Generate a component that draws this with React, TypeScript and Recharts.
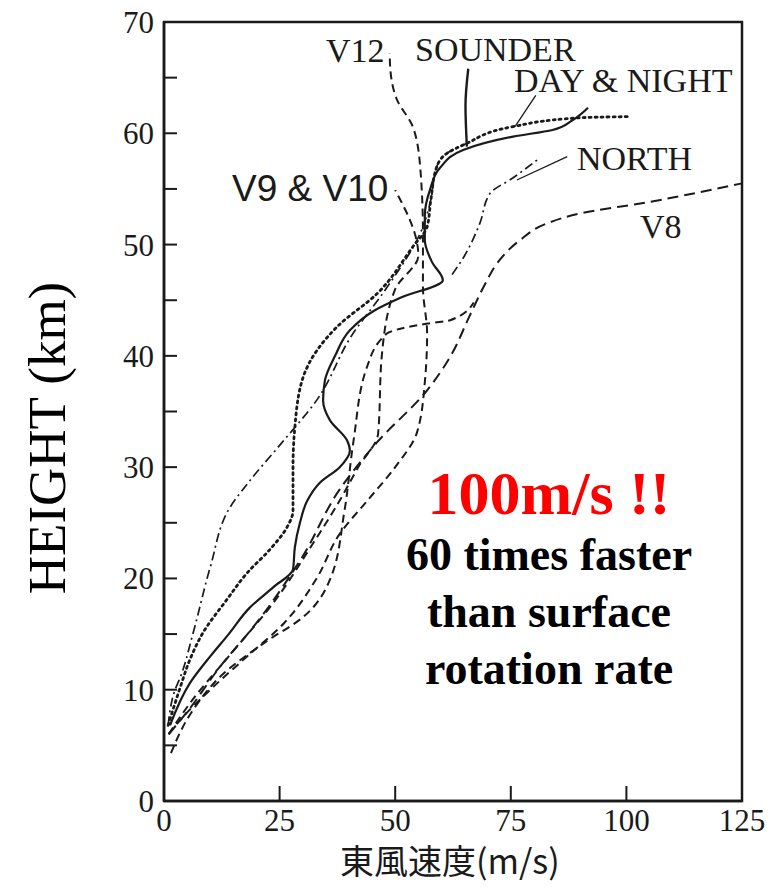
import { ScatterChart, Scatter, XAxis, YAxis, ReferenceArea } from "recharts";

// frame of the plot in page pixels
const LEFT = 164;
const RIGHT = 742;
const TOP = 22;
const BOTTOM = 801;

const X_TICKS = [0, 25, 50, 75, 100, 125];
const Y_TICKS = [0, 5, 10, 15, 20, 25, 30, 35, 40, 45, 50, 55, 60, 65, 70];

// wind speed (m/s) / height (km)
const sounderSpeed = [1.3, 5.6, 10, 14, 18.6, 23.6, 27.9, 28.3, 29.4, 31, 33.7, 38, 40.2, 39.6, 35.9, 34.4, 34.8, 37, 40.2, 45.6, 51, 60.3, 58, 56.4, 56.4, 57.5, 59.7, 64.7, 75.5, 84, 88.4, 91.7];
const sounderHeight = [6.8, 10.6, 13, 15, 17.4, 19.2, 20.8, 22.8, 25, 27, 28.6, 30, 31.5, 32.4, 34.2, 36, 37.8, 40, 42.3, 44.1, 45.2, 46.8, 48.4, 50.4, 52.6, 54.9, 56.9, 58.5, 59.7, 60.3, 61.2, 62.3];

const daySpeed = [0.9, 3.5, 5.6, 8.4, 13.6, 18, 22.9, 26.6, 27.9, 27.9, 28.3, 30.1, 33.1, 37.4, 46.1, 53.8, 56.9, 57.7, 59, 61.2, 65.5, 75.5, 90, 100.8];
const dayHeight = [6.8, 10.2, 12.7, 15.1, 18.1, 20.5, 22.6, 24.6, 26.1, 30, 33.6, 38.1, 40.5, 42.6, 45.6, 49.8, 51.6, 54, 57, 58.2, 59.1, 60.6, 61.4, 61.5];

const nightSpeed = [0.9, 2.4, 3.5, 6.3, 10, 14.3, 18.6, 25.5, 33, 40.7, 47.8, 56, 57.7, 59, 61.2, 65.5];
const nightHeight = [6.8, 10, 11.1, 15.1, 21, 26.4, 28.8, 32.2, 36, 41.9, 45.9, 51.6, 54, 57, 58.2, 59.1];

const northSpeed = [62.3, 65, 68.3, 70.5, 75.5, 80.7];
const northHeight = [47.3, 49, 51.9, 54.6, 56, 57.6];

const v8Speed = [1, 5, 12, 20, 30, 38, 46, 56.9, 62, 66, 69.5, 72, 77, 82.8, 90, 104.5, 125];
const v8Height = [6, 8, 12, 16, 22, 28, 32.2, 36.9, 40, 43.5, 46.5, 48.3, 50.4, 51.9, 52.8, 53.8, 55.5];

const v10Speed = [1.5, 6, 13, 22, 30, 36, 39, 41, 43.9, 48.2, 57, 61.9, 67];
const v10Height = [4.3, 8, 11.5, 14.3, 16.5, 20, 26, 32.4, 39, 42, 42.9, 43.2, 44.8];

const v9Speed = [1, 6, 14, 24, 32, 38, 42, 46.3, 47.1, 50, 55, 50];
const v9Height = [6, 9, 13, 18, 23, 27, 30, 33, 40, 46, 49, 54.9];

const v12Speed = [1, 4, 10, 18, 26, 33, 38, 44, 50, 54.7, 56.4, 56.9, 56, 56, 55.4, 53.8, 50.4, 49, 48.8];
const v12Height = [6, 7.5, 10, 13, 16, 20, 24, 27, 30, 33.1, 37.6, 42, 46.2, 51, 57, 60.6, 63, 65.5, 67.2];

// label leaders
const sounderLeadSpeed = [65.5, 65.2, 65.8];
const sounderLeadHeight = [58.8, 62.5, 65.8];
const dayLeadSpeed = [75.9, 80.4];
const dayLeadHeight = [60.6, 63.4];
const northLeadSpeed = [76.3, 87.2];
const northLeadHeight = [55.8, 57.9];

const zip = (v: number[], h: number[]) => v.map((s, i) => ({ v: s, h: h[i] }));

const INK = "#1a1a1a";
const SERIF = "'Liberation Serif', 'DejaVu Serif', serif";

const noDot = () => <g />;

// eslint-disable-next-line @typescript-eslint/no-explicit-any
function XTick({ x, payload }: any) {
  const v = payload.value;
  const inner = v > 0 && v < 125;
  return (
    <g>
      {inner && <line x1={x} x2={x} y1={BOTTOM} y2={BOTTOM - 15} stroke={INK} strokeWidth={2} />}
      <text x={x} y={BOTTOM + 30} textAnchor="middle" fontFamily={SERIF} fontSize={31} fill={INK}>
        {v}
      </text>
    </g>
  );
}

// eslint-disable-next-line @typescript-eslint/no-explicit-any
function YTick({ y, payload }: any) {
  const v = payload.value;
  const inner = v > 0 && v < 70;
  return (
    <g>
      {inner && <line x1={LEFT} x2={LEFT + 13} y1={y} y2={y} stroke={INK} strokeWidth={2} />}
      {v % 10 === 0 && (
        <text x={LEFT - 10} y={y + 11} textAnchor="end" fontFamily={SERIF} fontSize={31} fill={INK}>
          {v}
        </text>
      )}
    </g>
  );
}

const curves = [
  { name: "sounder", data: zip(sounderSpeed, sounderHeight), dash: undefined, w: 2.2, joint: "monotoneY" },
  { name: "day", data: zip(daySpeed, dayHeight), dash: "2 4", w: 2.8, joint: "monotoneY" },
  { name: "night", data: zip(nightSpeed, nightHeight), dash: "9 4 2 4", w: 1.7, joint: "monotoneY" },
  { name: "north", data: zip(northSpeed, northHeight), dash: "9 4 2 4", w: 1.7, joint: "monotoneY" },
  { name: "v8", data: zip(v8Speed, v8Height), dash: "11 6", w: 2, joint: "monotoneY" },
  { name: "v9", data: zip(v9Speed, v9Height), dash: "8 5", w: 2, joint: "monotoneY" },
  { name: "v10", data: zip(v10Speed, v10Height), dash: "8 5", w: 2, joint: "monotoneY" },
  { name: "v12", data: zip(v12Speed, v12Height), dash: "8 5", w: 2, joint: "monotoneY" },
  { name: "sounderLead", data: zip(sounderLeadSpeed, sounderLeadHeight), dash: undefined, w: 2.4, joint: "monotoneY" },
  { name: "dayLead", data: zip(dayLeadSpeed, dayLeadHeight), dash: undefined, w: 1.3, joint: "linear" },
  { name: "northLead", data: zip(northLeadSpeed, northLeadHeight), dash: undefined, w: 1.3, joint: "linear" },
];

const label = (text: string, left: number, top: number, size = 34, family = SERIF) => (
  <div
    style={{
      position: "absolute",
      left,
      top,
      fontFamily: family,
      fontSize: size,
      lineHeight: 1,
      color: INK,
      whiteSpace: "nowrap",
      background: family === SERIF ? "transparent" : "#fff",
    }}
  >
    {text}
  </div>
);

export default function App() {
  return (
    <div style={{ position: "absolute", left: 0, top: 0, width: 778, height: 891, background: "#fff", overflow: "hidden" }}>
      <ScatterChart
        width={778}
        height={891}
        margin={{ top: TOP, right: 778 - RIGHT, bottom: 891 - BOTTOM - 2, left: LEFT - 2 }}
      >
        <XAxis
          type="number"
          dataKey="v"
          domain={[0, 125]}
          ticks={X_TICKS}
          tick={<XTick />}
          tickLine={false}
          tickSize={0}
          height={2}
          interval={0}
          axisLine={{ stroke: INK, strokeWidth: 2.5 }}
        />
        <YAxis
          type="number"
          dataKey="h"
          domain={[0, 70]}
          ticks={Y_TICKS}
          tick={<YTick />}
          tickLine={false}
          tickSize={0}
          width={2}
          interval={0}
          axisLine={{ stroke: INK, strokeWidth: 2.5 }}
        />
        <ReferenceArea x1={0} x2={125} y1={0} y2={70} fill="none" stroke={INK} strokeWidth={2.5} fillOpacity={0} />
        {curves.map((c) => (
          <Scatter
            key={c.name}
            data={c.data}
            line={{ stroke: INK, strokeWidth: c.w, strokeDasharray: c.dash, strokeLinecap: c.name === "day" ? "round" : "butt", fill: "none" }}
            // eslint-disable-next-line @typescript-eslint/no-explicit-any
            lineJointType={c.joint as any}
            shape={noDot}
            isAnimationActive={false}
          />
        ))}
      </ScatterChart>

      {label("V12", 326, 34)}
      {label("SOUNDER", 415, 33)}
      {label("DAY & NIGHT", 514, 64)}
      {label("NORTH", 577, 142)}
      {label("V8", 640, 210)}
      {label("V9 & V10", 232, 170, 37, "'Liberation Sans', Arial, sans-serif")}

      <div
        style={{
          position: "absolute",
          left: 0,
          top: 438,
          width: 94,
          transform: "translateY(-50%)",
          display: "flex",
          justifyContent: "center",
        }}
      >
        <div style={{ transform: "rotate(-90deg)", fontFamily: "'Liberation Serif', serif", fontSize: 53, whiteSpace: "nowrap", color: "#000" }}>
          HEIGHT (km)
        </div>
      </div>

      <div
        style={{
          position: "absolute",
          left: 340,
          top: 843,
          fontFamily: "'Noto Sans CJK JP', sans-serif",
          fontSize: 34,
          lineHeight: 1,
          color: INK,
          whiteSpace: "nowrap",
        }}
      >
        東風速度(m/s)
      </div>

      <div
        style={{
          position: "absolute",
          left: 380,
          top: 460,
          width: 338,
          textAlign: "center",
          fontFamily: "'Liberation Serif', serif",
          fontWeight: 700,
          color: "#000",
        }}
      >
        <div style={{ color: "#ff0000", fontSize: 62, lineHeight: "66px" }}>100m/s !!</div>
        <div style={{ fontSize: 46, lineHeight: "57px" }}>
          60 times faster
          <br />
          than surface
          <br />
          rotation rate
        </div>
      </div>
    </div>
  );
}
